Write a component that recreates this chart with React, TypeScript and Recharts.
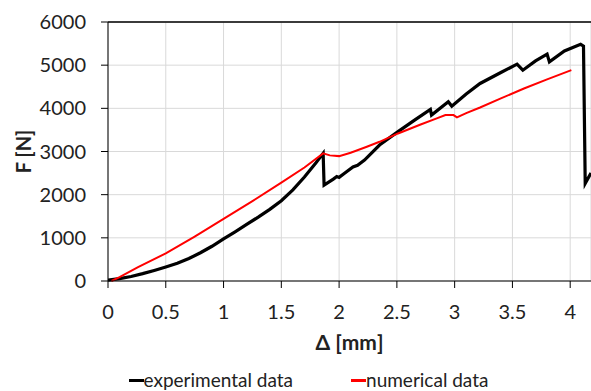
import { LineChart, Line, XAxis, YAxis, CartesianGrid, Legend, ReferenceLine } from "recharts";

// experimental curve (black)
const expDelta = [0, 0.1, 0.2, 0.3, 0.4, 0.5, 0.6, 0.7, 0.8, 0.9, 1.0, 1.1, 1.2, 1.3, 1.4, 1.5, 1.6, 1.7, 1.8, 1.862, 1.87, 1.95, 1.98, 2.0, 2.05, 2.12, 2.16, 2.22, 2.35, 2.51, 2.65, 2.79, 2.8, 2.945, 2.975, 3.1, 3.22, 3.4, 3.54, 3.59, 3.7, 3.8, 3.82, 3.95, 4.09, 4.115, 4.13, 4.18];
const expForce = [20, 55, 105, 170, 245, 325, 410, 520, 655, 805, 975, 1140, 1310, 1480, 1660, 1860, 2110, 2410, 2740, 2956, 2222, 2360, 2420, 2400, 2500, 2640, 2680, 2800, 3150, 3460, 3720, 3974, 3843, 4150, 4051, 4330, 4576, 4830, 5023, 4884, 5100, 5255, 5077, 5330, 5486, 5440, 2261, 2500];

// numerical curve (red)
const numDelta = [0.03, 0.1, 0.26, 0.5, 0.75, 1.0, 1.25, 1.5, 1.7, 1.862, 1.92, 2.0, 2.1, 2.24, 2.35, 2.51, 2.7, 2.845, 2.92, 2.99, 3.02, 3.1, 3.22, 3.4, 3.6, 3.8, 4.01];
const numForce = [0, 90, 320, 640, 1030, 1440, 1850, 2280, 2630, 2956, 2910, 2893, 2970, 3109, 3225, 3418, 3620, 3766, 3843, 3843, 3789, 3890, 4020, 4230, 4460, 4670, 4884];

const xTicks = [0, 0.5, 1, 1.5, 2, 2.5, 3, 3.5, 4];
const yTicks = [0, 1000, 2000, 3000, 4000, 5000, 6000];

const expData = expDelta.map((d, i) => ({ d, f: expForce[i] }));
const numData = numDelta.map((d, i) => ({ d, f: numForce[i] }));

const FONT = "Lato, 'Open Sans', sans-serif";

function LegendBox() {
  return (
    <div
      style={{
        display: "flex",
        justifyContent: "center",
        gap: 58,
        paddingLeft: 26,
        fontFamily: FONT,
        fontSize: 19,
        lineHeight: "22px",
        height: 22,
        color: "#222",
      }}
    >
      <span style={{ display: "flex", alignItems: "center" }}>
        <span style={{ display: "inline-block", width: 15, height: 3, background: "#000" }} />
        experimental data
      </span>
      <span style={{ display: "flex", alignItems: "center" }}>
        <span style={{ display: "inline-block", width: 15, height: 3, background: "#ff0000" }} />
        numerical data
      </span>
    </div>
  );
}

export default function App() {
  return (
    <div style={{ position: "absolute", left: 0, top: 0, background: "#fff" }}>
      <LineChart width={591} height={391} margin={{ top: 22, right: 0, bottom: 0, left: 0 }}>
        <CartesianGrid stroke="#d9d9d9" strokeWidth={1} />
        <XAxis
          type="number"
          dataKey="d"
          domain={[0, 4.18]}
          ticks={xTicks}
          allowDataOverflow
          height={88}
          stroke="#000"
          tickSize={7}
          tickMargin={17}
          tick={{ fill: "#222", fontSize: 20, fontFamily: FONT }}
          label={{
            content: (props: any) => {
              const vb = props.viewBox;
              return (
                <text
                  x={vb.x + vb.width / 2}
                  y={vb.y + 69}
                  textAnchor="middle"
                  fontFamily={FONT}
                  fontSize={21}
                  fontWeight="bold"
                  fill="#222"
                >
                  Δ [mm]
                </text>
              );
            },
          }}
        />
        <YAxis
          type="number"
          domain={[0, 6000]}
          ticks={yTicks}
          width={108}
          stroke="#000"
          tickSize={7}
          tickMargin={15}
          tick={{ fill: "#222", fontSize: 20, fontFamily: FONT }}
          label={{
            content: (props: any) => {
              const vb = props.viewBox;
              const cx = vb.x + 31;
              const cy = vb.y + vb.height / 2;
              return (
                <text
                  x={cx}
                  y={cy}
                  transform={`rotate(-90 ${cx} ${cy})`}
                  textAnchor="middle"
                  fontFamily={FONT}
                  fontSize={20}
                  fontWeight="bold"
                  fill="#222"
                >
                  F [N]
                </text>
              );
            },
          }}
        />
        <ReferenceLine y={6000} stroke="#000" strokeWidth={1.5} />
        <Legend verticalAlign="bottom" content={() => <LegendBox />} />
        <Line
          data={expData}
          dataKey="f"
          name="experimental data"
          stroke="#000"
          strokeWidth={3.2}
          dot={false}
          type="linear"
          isAnimationActive={false}
        />
        <Line
          data={numData}
          dataKey="f"
          name="numerical data"
          stroke="#ff0000"
          strokeWidth={2}
          dot={false}
          type="linear"
          isAnimationActive={false}
        />
      </LineChart>
    </div>
  );
}
